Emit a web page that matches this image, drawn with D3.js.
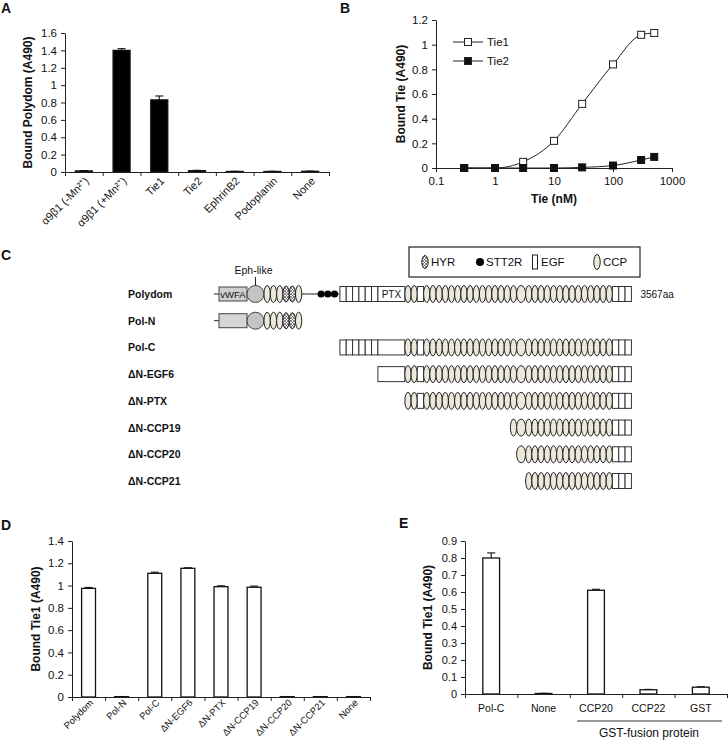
<!DOCTYPE html>
<html>
<head>
<meta charset="utf-8">
<script src="https://cdn.jsdelivr.net/npm/d3@7"></script>
<style>
body { margin: 0; background: #fff; }
text { font-family: "Liberation Sans", Arial, sans-serif; fill: #111; }
.axis path, .axis line { stroke: #222; }
</style>
</head>
<body>
<script>
// ---- data ----
var aCats = ["α9β1 (-Mn²⁺)", "α9β1 (+Mn²⁺)", "Tie1", "Tie2", "EphrinB2", "Podoplanin", "None"];
var aVals = [0.012, 1.40, 0.83, 0.015, 0.006, 0.006, 0.008];
var aErr = [0.004, 0.02, 0.045, 0.004, 0.002, 0.002, 0.002];

var bConc = [0.3, 1, 3, 10, 30, 100, 300, 500];
var bTie1 = [0, 0, 0.05, 0.22, 0.52, 0.84, 1.08, 1.095];
var bTie1Err = [0, 0, 0, 0.005, 0.005, 0.005, 0.025, 0.005];
var bTie2 = [0, 0, 0, 0, 0.005, 0.02, 0.065, 0.09];
var bXTicks = [0.1, 1, 10, 100, 1000];

var cRows = ["Polydom", "Pol-N", "Pol-C", "ΔN-EGF6", "ΔN-PTX", "ΔN-CCP19", "ΔN-CCP20", "ΔN-CCP21"];
var legendItems = ["HYR", "STT2R", "EGF", "CCP"];

var dCats = ["Polydom", "Pol-N", "Pol-C", "ΔN-EGF6", "ΔN-PTX", "ΔN-CCP19", "ΔN-CCP20", "ΔN-CCP21", "None"];
var dVals = [0.975, 0.003, 1.11, 1.155, 0.99, 0.985, 0.003, 0.003, 0.003];
var dErr = [0.008, 0.001, 0.01, 0.005, 0.008, 0.01, 0.001, 0.001, 0.001];

var eCats = ["Pol-C", "None", "CCP20", "CCP22", "GST"];
var eVals = [0.80, 0.003, 0.61, 0.025, 0.04];
var eErr = [0.03, 0.001, 0.006, 0.002, 0.003];

// domain order of full-length Polydom
function rep(n, t) { return d3.range(n).map(function () { return t; }); }
var polydomDomains = [].concat(
  ["line", "vWFA", "Eph"], rep(3, "CCP"), rep(2, "HYR"), ["CCP"],
  ["gap"], rep(3, "STT2R"), ["gap2"], rep(6, "EGF"), ["PTX"],
  rep(2, "CCP"), ["EGF"], rep(15, "CCP"), ["CCPw"], rep(14, "CCP"), rep(3, "EGF")
);
// first / last domain index shown for each construct
var lastDom = polydomDomains.length - 1;
var rowStart = [0, 0, 14, 20, 21, 38, 39, 40];
var rowEnd = [lastDom, 8, lastDom, lastDom, lastDom, lastDom, lastDom, lastDom];

var FONT = '"Liberation Sans", Arial, sans-serif';
var svg = d3.select("body").append("svg").attr("width", 728).attr("height", 743);

var defs = svg.append("defs");
var pat = defs.append("pattern").attr("id", "hatch").attr("patternUnits", "userSpaceOnUse")
  .attr("width", 3).attr("height", 3);
pat.append("rect").attr("width", 3).attr("height", 3).attr("fill", "#f4f4f4");
pat.append("path").attr("d", "M0,0L3,3M3,0L0,3").attr("stroke", "#555").attr("stroke-width", 0.7);

var fmt = d3.format("~g");

function letter(x, y, t) {
  svg.append("text").attr("x", x).attr("y", y).attr("font-size", 14).attr("font-weight", "bold").text(t);
}
function styleTicks(size) {
  return function (s) {
    s.selectAll("text").attr("font-size", size).attr("font-family", FONT).attr("fill", "#222");
  };
}

// generic bar panel
function barPanel(opt) {
  var n = opt.cats.length;
  var x = d3.scaleBand().domain(opt.cats).range([opt.x0, opt.x1]).padding(0);
  var xi = d3.scaleLinear().domain([0, n]).range([opt.x0, opt.x1]);
  var y = d3.scaleLinear().domain([0, opt.ymax]).range([opt.y0, opt.y1]);
  var g = svg.append("g");

  g.append("g").attr("class", "axis").attr("transform", "translate(" + opt.x0 + ",0)")
    .call(d3.axisLeft(y).tickValues(d3.range(0, opt.ymax + 1e-9, opt.ystep)).tickFormat(fmt)
      .tickSize(4).tickSizeOuter(0).tickPadding(4))
    .call(styleTicks(opt.tickFont));

  var bw = x.bandwidth() * opt.barRatio;
  var cx = function (i) { return x(opt.cats[i]) + x.bandwidth() / 2; };
  var bars = g.selectAll(".bar").data(opt.vals).enter();
  bars.append("line")
    .attr("x1", function (d, i) { return cx(i); })
    .attr("x2", function (d, i) { return cx(i); })
    .attr("y1", function (d) { return y(d); })
    .attr("y2", function (d, i) { return y(d + opt.err[i]); })
    .attr("stroke", "#222").attr("stroke-width", 1.2);
  bars.append("line")
    .attr("x1", function (d, i) { return cx(i) - 4; })
    .attr("x2", function (d, i) { return cx(i) + 4; })
    .attr("y1", function (d, i) { return y(d + opt.err[i]); })
    .attr("y2", function (d, i) { return y(d + opt.err[i]); })
    .attr("stroke", "#222").attr("stroke-width", 1.2);
  bars.append("rect")
    .attr("x", function (d, i) { return cx(i) - bw / 2; })
    .attr("y", function (d) { return y(d); })
    .attr("width", bw)
    .attr("height", function (d) { return Math.max(0.5, opt.y0 - y(d)); })
    .attr("fill", opt.fill).attr("stroke", "#111").attr("stroke-width", 1.3);

  g.append("g").attr("class", "axis").attr("transform", "translate(0," + opt.y0 + ")")
    .call(d3.axisBottom(xi).tickValues(d3.range(n + 1)).tickFormat("").tickSize(4).tickSizeOuter(0));

  if (opt.rotate) {
    g.selectAll(".xl").data(opt.cats).enter().append("text")
      .attr("transform", function (d) {
        return "translate(" + (x(d) + x.bandwidth() / 2 + 3) + "," + (opt.y0 + opt.labelDrop) + ") rotate(-45)";
      })
      .attr("text-anchor", "end").attr("dy", "0.35em").attr("font-size", opt.catFont).text(function (d) { return d; });
  } else {
    g.selectAll(".xl").data(opt.cats).enter().append("text")
      .attr("x", function (d) { return x(d) + x.bandwidth() / 2; })
      .attr("y", opt.y0 + 18).attr("text-anchor", "middle").attr("font-size", opt.catFont)
      .text(function (d) { return d; });
  }

  svg.append("text")
    .attr("transform", "translate(" + opt.titleX + "," + ((opt.y0 + opt.y1) / 2) + ") rotate(-90)")
    .attr("text-anchor", "middle").attr("font-size", 12).attr("font-weight", "bold").text(opt.title);
  return { x: x, xi: xi, y: y };
}

// ---- A ----
letter(1, 13, "A");
barPanel({ cats: aCats, vals: aVals, err: aErr, x0: 65, x1: 329, y0: 172, y1: 33, ymax: 1.6, ystep: 0.2,
  barRatio: 0.45, fill: "#000", rotate: true, tickFont: 11.5, catFont: 11, labelDrop: 7,
  title: "Bound Polydom (A490)", titleX: 32 });

// ---- B ----
letter(340, 13, "B");
(function () {
  var x = d3.scaleLog().domain([0.1, 1000]).range([436, 672]);
  var y = d3.scaleLinear().domain([0, 1.2]).range([168, 20]);
  var g = svg.append("g");
  g.append("g").attr("class", "axis").attr("transform", "translate(436,0)")
    .call(d3.axisLeft(y).tickValues(d3.range(0, 1.21, 0.2)).tickFormat(fmt).tickSize(4).tickSizeOuter(0).tickPadding(4))
    .call(styleTicks(11.5));
  g.append("g").attr("class", "axis").attr("transform", "translate(0,168)")
    .call(d3.axisBottom(x).tickValues(bXTicks).tickFormat(fmt).tickSize(4).tickSizeOuter(0).tickPadding(5))
    .call(styleTicks(11.5));

  var line = d3.line().x(function (d) { return x(d[0]); }).y(function (d) { return y(d[1]); }).curve(d3.curveMonotoneX);
  var t1 = bConc.map(function (c, i) { return [c, bTie1[i]]; });
  var t2 = bConc.map(function (c, i) { return [c, bTie2[i]]; });
  g.append("path").datum(t1).attr("d", line).attr("fill", "none").attr("stroke", "#222").attr("stroke-width", 1);
  g.append("path").datum(t2).attr("d", line).attr("fill", "none").attr("stroke", "#222").attr("stroke-width", 1);

  // error bars (Tie1)
  g.selectAll(".eb").data(t1).enter().append("path")
    .attr("d", function (d, i) {
      var px = x(d[0]), yt = y(d[1] + bTie1Err[i]), yb = y(d[1] - bTie1Err[i]);
      return "M" + px + "," + yb + "V" + yt + "M" + (px - 3) + "," + yt + "H" + (px + 3);
    }).attr("stroke", "#222").attr("fill", "none");

  var s = 7;
  g.selectAll(".p1").data(t1).enter().append("rect")
    .attr("x", function (d) { return x(d[0]) - s / 2; }).attr("y", function (d) { return y(d[1]) - s / 2; })
    .attr("width", s).attr("height", s).attr("fill", "#fff").attr("stroke", "#222").attr("stroke-width", 1);
  g.selectAll(".p2").data(t2).enter().append("rect")
    .attr("x", function (d) { return x(d[0]) - s / 2; }).attr("y", function (d) { return y(d[1]) - s / 2; })
    .attr("width", s).attr("height", s).attr("fill", "#111").attr("stroke", "#111");

  // legend
  [["Tie1", "#fff"], ["Tie2", "#111"]].forEach(function (it, i) {
    var ly = 42 + i * 19;
    g.append("line").attr("x1", 453).attr("x2", 483).attr("y1", ly).attr("y2", ly).attr("stroke", "#222");
    g.append("rect").attr("x", 468 - s / 2).attr("y", ly - s / 2).attr("width", s).attr("height", s)
      .attr("fill", it[1]).attr("stroke", "#222");
    g.append("text").attr("x", 487).attr("y", ly + 4).attr("font-size", 11.5).text(it[0]);
  });

  svg.append("text").attr("x", 554).attr("y", 203).attr("text-anchor", "middle")
    .attr("font-size", 12).attr("font-weight", "bold").text("Tie (nM)");
  svg.append("text").attr("transform", "translate(405,94) rotate(-90)").attr("text-anchor", "middle")
    .attr("font-size", 12).attr("font-weight", "bold").text("Bound Tie (A490)");
})();

// ---- C ----
letter(1, 260, "C");
(function () {
  // legend box
  svg.append("rect").attr("x", 409).attr("y", 247).attr("width", 231).attr("height", 30)
    .attr("fill", "#fff").attr("stroke", "#222").attr("stroke-width", 1.2);
  var legX = [425, 480, 535, 597];
  var ly = 262;
  legendItems.forEach(function (k, i) {
    var cx = legX[i];
    if (k === "HYR") svg.append("ellipse").attr("cx", cx).attr("cy", ly).attr("rx", 3.2).attr("ry", 6.5)
      .attr("fill", "url(#hatch)").attr("stroke", "#222");
    if (k === "STT2R") svg.append("circle").attr("cx", cx).attr("cy", ly).attr("r", 4).attr("fill", "#000");
    if (k === "EGF") svg.append("rect").attr("x", cx - 2.5).attr("y", ly - 7).attr("width", 5).attr("height", 14)
      .attr("fill", "#fff").attr("stroke", "#222");
    if (k === "CCP") svg.append("ellipse").attr("cx", cx).attr("cy", ly).attr("rx", 3.2).attr("ry", 7.5)
      .attr("fill", "#ece9dc").attr("stroke", "#222");
    svg.append("text").attr("x", cx + 6).attr("y", ly + 4).attr("font-size", 11.5).text(k);
  });

  // domain widths (diagram units)
  var unitW = { line: 5, vWFA: 28, Eph: 17, CCP: 6.2, HYR: 6.3, gap: 16, STT2R: 6.7, gap2: 2,
    EGF: 6.33, PTX: 27, CCPw: 9 };
  var widths = polydomDomains.map(function (t, i) {
    if (t === "CCP" && i < 10) return 6.3;
    if (t === "EGF" && i > 60) return 6.8;
    if (t === "EGF" && i === 24) return 7;
    return unitW[t];
  });
  var starts = [0];
  widths.forEach(function (w, i) { starts.push(starts[i] + w); });
  var total = starts[starts.length - 1];
  var dx = d3.scaleLinear().domain([0, total]).range([214, 214 + total]);
  var ry = d3.scalePoint().domain(cRows).range([294, 481]);

  cRows.forEach(function (name, r) {
    var cy = ry(name);
    svg.append("text").attr("x", 128).attr("y", cy + 4).attr("font-size", 10.5).attr("font-weight", "bold").text(name);
    var g = svg.append("g");
    var i, t, a, b, w, c;
    // connecting lines first
    for (i = rowStart[r]; i <= rowEnd[r]; i++) {
      t = polydomDomains[i];
      a = dx(starts[i]); b = dx(starts[i + 1]);
      if (t === "line" || t === "gap" || t === "gap2" || t === "STT2R")
        g.append("line").attr("x1", a).attr("x2", b).attr("y1", cy).attr("y2", cy).attr("stroke", "#222");
    }
    for (i = rowStart[r]; i <= rowEnd[r]; i++) {
      t = polydomDomains[i];
      a = dx(starts[i]); b = dx(starts[i + 1]); w = b - a; c = (a + b) / 2;
      if (t === "vWFA") {
        g.append("rect").attr("x", a).attr("y", cy - 7).attr("width", w).attr("height", 14)
          .attr("fill", r === 0 ? "#cfcfcf" : "#d6d6d6").attr("stroke", "#444");
        if (r === 0) g.append("text").attr("x", c).attr("y", cy + 4).attr("text-anchor", "middle")
          .attr("font-size", 9.5).attr("fill", "#333").text("vWFA");
      } else if (t === "Eph") {
        g.append("circle").attr("cx", c).attr("cy", cy).attr("r", w / 2).attr("fill", "#c4c4c4").attr("stroke", "#444");
      } else if (t === "CCP" || t === "CCPw") {
        g.append("ellipse").attr("cx", c).attr("cy", cy).attr("rx", w / 2).attr("ry", 8.5)
          .attr("fill", "#ece9dc").attr("stroke", "#222").attr("stroke-width", 1);
      } else if (t === "HYR") {
        g.append("ellipse").attr("cx", c).attr("cy", cy).attr("rx", w / 2).attr("ry", 8)
          .attr("fill", "url(#hatch)").attr("stroke", "#222");
      } else if (t === "STT2R") {
        g.append("circle").attr("cx", c).attr("cy", cy).attr("r", 3.6).attr("fill", "#000");
      } else if (t === "EGF" || t === "PTX") {
        g.append("rect").attr("x", a).attr("y", cy - 7.5).attr("width", w).attr("height", 15)
          .attr("fill", "#fff").attr("stroke", "#333");
        if (t === "PTX" && r === 0) g.append("text").attr("x", c).attr("y", cy + 4).attr("text-anchor", "middle")
          .attr("font-size", 10).text("PTX");
      }
    }
    if (r === 0) {
      svg.append("text").attr("x", dx(total) + 9).attr("y", cy + 4).attr("font-size", 10).text("3567aa");
      var ex = dx((starts[2] + starts[3]) / 2);
      svg.append("line").attr("x1", ex).attr("x2", ex).attr("y1", 277).attr("y2", cy - 8.5).attr("stroke", "#222");
      svg.append("text").attr("x", ex - 2).attr("y", 274).attr("text-anchor", "middle").attr("font-size", 10.5).text("Eph-like");
    }
  });
})();

// ---- D ----
letter(1, 530, "D");
barPanel({ cats: dCats, vals: dVals, err: dErr, x0: 72, x1: 370, y0: 697, y1: 541, ymax: 1.4, ystep: 0.2,
  barRatio: 0.42, fill: "#fff", rotate: true, tickFont: 11.5, catFont: 9.5, labelDrop: 4,
  title: "Bound Tie1 (A490)", titleX: 40 });

// ---- E ----
letter(399, 528, "E");
barPanel({ cats: eCats, vals: eVals, err: eErr, x0: 465, x1: 727, y0: 694, y1: 541, ymax: 0.9, ystep: 0.1,
  barRatio: 0.32, fill: "#fff", rotate: false, tickFont: 11, catFont: 10.5,
  title: "Bound Tie1 (A490)", titleX: 432 });
svg.append("line").attr("x1", 577).attr("x2", 722).attr("y1", 721).attr("y2", 721).attr("stroke", "#333");
svg.append("text").attr("x", 649).attr("y", 737).attr("text-anchor", "middle").attr("font-size", 12).text("GST-fusion protein");
</script>
</body>
</html>
